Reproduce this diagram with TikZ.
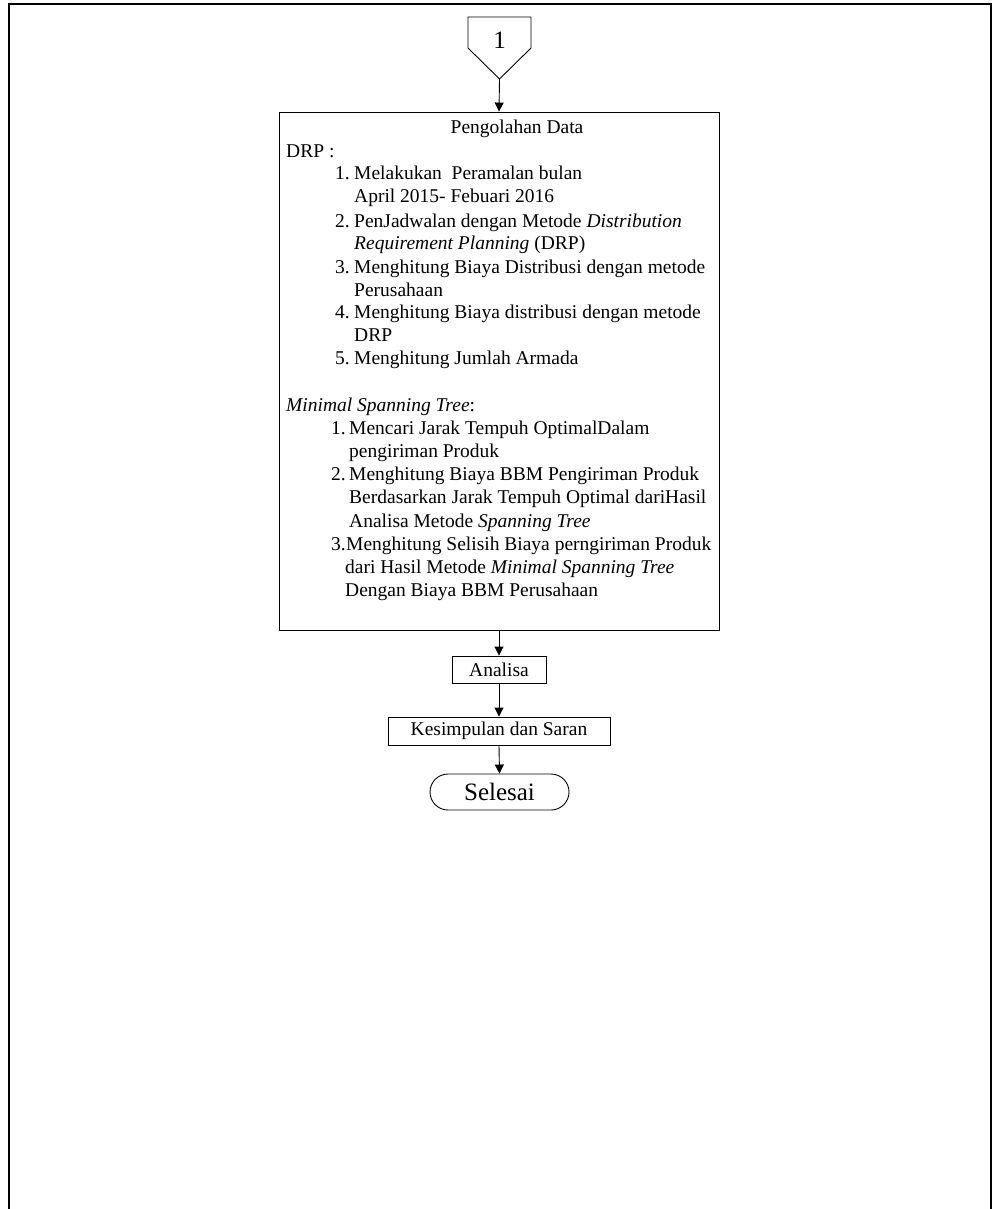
\documentclass[tikz,border=0pt]{standalone}
\usepackage{fontspec}
\setmainfont{Liberation Serif}
\usetikzlibrary{arrows.meta,shapes.misc}
\begin{document}
\begin{tikzpicture}[x=1pt,y=-1pt,
  txt/.style={anchor=base west, inner sep=0pt, font=\fontsize{19.5}{23}\selectfont},
  ctxt/.style={anchor=base, inner sep=0pt, font=\fontsize{19.5}{23}\selectfont},
  box/.style={draw, line width=0.9pt, inner sep=0pt, font=\fontsize{19.5}{23}\selectfont},
  arr/.style={line width=0.9pt, -{Triangle[length=9pt,width=9pt]}}]
\useasboundingbox (0,0) rectangle (995,1209);
\draw[line width=2.2pt] (9,1209) -- (9,4) -- (991,4) -- (991,1209);
% off-page connector
\draw[line width=0.9pt] (468,17) -- (531,17) -- (531,48) -- (499.5,79) -- (468,48) -- cycle;
\coordinate (tip) at (499.5,79);
\node[inner sep=0pt, font=\fontsize{25}{29}\selectfont] (c1) at (499.5,40) {1};
% main box
\node[box, minimum width=440pt, minimum height=518pt] (pd) at (499,371) {};
\draw[arr] (tip) -- (pd.north);
\node[ctxt] (title) at (517,134) {Pengolahan Data};
\node[txt] (drp) at (286,158) {DRP :};
\node[txt] (n1) at (335,180) {1.};
\node[txt] (t1a) at (354,180) {Melakukan\ \ Peramalan bulan};
\node[txt] (t1b) at (354,203) {April 2015- Febuari 2016};
\node[txt] (n2) at (335,227) {2.};
\node[txt] (t2a) at (354,227) {PenJadwalan dengan Metode \textit{Distribution}};
\node[txt] (t2b) at (354,249) {\textit{Requirement Planning} (DRP)};
\node[txt] (n3) at (335,273) {3.};
\node[txt] (t3a) at (354,273) {Menghitung Biaya Distribusi dengan metode};
\node[txt] (t3b) at (354,296) {Perusahaan};
\node[txt] (n4) at (335,318) {4.};
\node[txt] (t4a) at (354,318) {Menghitung Biaya distribusi dengan metode};
\node[txt] (t4b) at (354,341) {DRP};
\node[txt] (n5) at (335,364) {5.};
\node[txt] (t5a) at (354,364) {Menghitung Jumlah Armada};
\node[txt] (mst) at (286,411) {\textit{Minimal Spanning Tree}:};
\node[txt] (m1) at (331,434) {1.};
\node[txt] (s1a) at (349,434) {Mencari Jarak Tempuh OptimalDalam};
\node[txt] (s1b) at (349,457) {pengiriman Produk};
\node[txt] (m2) at (331,480) {2.};
\node[txt] (s2a) at (349,480) {Menghitung Biaya BBM Pengiriman Produk};
\node[txt] (s2b) at (349,503) {Berdasarkan Jarak Tempuh Optimal dariHasil};
\node[txt] (s2c) at (349,527) {Analisa Metode \textit{Spanning Tree}};
\node[txt] (m3) at (331,550) {3.};
\node[txt] (s3a) at (346,550) {Menghitung Selisih Biaya perngiriman Produk};
\node[txt] (s3b) at (345,573) {dari Hasil Metode \textit{Minimal Spanning Tree}};
\node[txt] (s3c) at (345,596) {Dengan Biaya BBM Perusahaan};
% lower chain
\node[box, minimum width=94pt, minimum height=27pt] (an) at (499,669.5) {Analisa};
\node[box, minimum width=222pt, minimum height=28pt] (ks) at (499,731) {Kesimpulan dan Saran};
\node[draw, line width=0.9pt, rounded rectangle, inner sep=0pt, minimum width=139pt, minimum height=36pt, font=\fontsize{25}{30}\selectfont] (sl) at (499.5,792) {Selesai};
\draw[arr] (pd.south) -- (an.north);
\draw[arr] (an.south) -- (ks.north);
\draw[arr] (ks.south) -- (sl.north);
\end{tikzpicture}
\end{document}
